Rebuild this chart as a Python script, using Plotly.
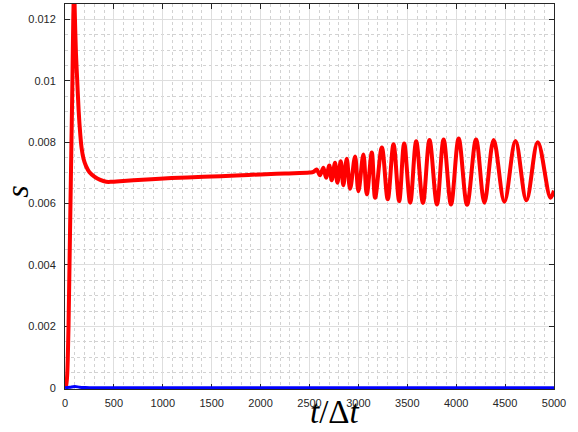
import plotly.graph_objects as go

# Red series: s vs t/Δt
t_red = [0, 10, 20, 28, 36, 46, 56, 66, 76, 85, 93, 101, 112, 125, 140, 155, 170, 190, 215, 250, 300, 360, 422, 480, 560, 700, 968, 1250, 1500, 1750, 2000, 2250, 2500, 2540,
         2573, 2607, 2642, 2669, 2703, 2727, 2761, 2785, 2820, 2846, 2881, 2915, 2966, 3000, 3051, 3086, 3137, 3171, 3240, 3300,
         3359, 3417, 3468, 3530, 3591, 3660, 3727, 3803, 3871, 3947, 4025, 4111, 4203, 4288, 4383, 4493, 4606, 4718, 4834, 4964, 5000]
s_red = [0.0, 0.00005, 0.0003, 0.0009, 0.0020, 0.0040, 0.0060, 0.0080, 0.0100, 0.0121, 0.0130, 0.0121, 0.0109, 0.0100, 0.0090, 0.0083, 0.0078, 0.00745, 0.00722, 0.00702, 0.00688, 0.00677, 0.00671, 0.00671, 0.00673, 0.00676, 0.00681, 0.00685, 0.00688, 0.00691, 0.00695, 0.00698, 0.00701, 0.00703,
         0.00711, 0.00692, 0.00717, 0.00684, 0.00724, 0.00676, 0.00733, 0.00668, 0.00738, 0.00660, 0.00746, 0.00648, 0.00753, 0.00640, 0.00760, 0.00630, 0.00766, 0.00619, 0.00783, 0.00614,
         0.00793, 0.00608, 0.00796, 0.00603, 0.00803, 0.00602, 0.00807, 0.00597, 0.00809, 0.00597, 0.00812, 0.00596, 0.00809, 0.00603, 0.00807, 0.00606, 0.00804, 0.00611, 0.00800, 0.00619, 0.00642]

# Blue series (near zero)
t_blue = [0, 50, 100, 150, 200, 300, 5000]
s_blue = [0.0, 0.00002, 0.00004, 0.00002, 0.00001, 0.0, 0.0]

x_ticks = [0, 500, 1000, 1500, 2000, 2500, 3000, 3500, 4000, 4500, 5000]
y_ticks = [0, 0.002, 0.004, 0.006, 0.008, 0.01, 0.012]
y_tick_labels = ["0", "0.002", "0.004", "0.006", "0.008", "0.01", "0.012"]

fig = go.Figure()
fig.add_trace(go.Scatter(x=t_red, y=s_red, mode="lines",
                         line=dict(color="#ff0000", width=4, shape="spline", smoothing=1.0),
                         showlegend=False))
fig.add_trace(go.Scatter(x=t_blue, y=s_blue, mode="lines", cliponaxis=False,
                         line=dict(color="#0000ff", width=3, shape="spline"),
                         showlegend=False))

axis_common = dict(
    showline=True, linecolor="#262626", linewidth=1, mirror="ticks",
    ticks="inside", ticklen=5, tickcolor="#262626", tickwidth=1,
    showgrid=True, gridcolor="#dedede", gridwidth=1,
    zeroline=False,
    tickfont=dict(family="Liberation Sans, Arial, sans-serif", size=11, color="#262626"),
    layer="below traces",
)

fig.update_xaxes(range=[0, 5000], tickmode="array", tickvals=x_ticks,
                 ticktext=[str(v) for v in x_ticks],
                 minor=dict(dtick=100, showgrid=True, griddash="dot", gridcolor="#d2d2d2", gridwidth=1),
                 ticklabelstandoff=4,
                 **axis_common)
fig.update_yaxes(range=[-0.00004, 0.0125], tickmode="array", tickvals=y_ticks,
                 ticktext=y_tick_labels,
                 minor=dict(dtick=0.0005, tick0=0, showgrid=True, griddash="dot", gridcolor="#d2d2d2", gridwidth=1),
                 ticklabelstandoff=6,
                 **axis_common)

fig.update_layout(
    width=578, height=432,
    margin=dict(l=65, r=24, t=4, b=43),
    paper_bgcolor="white", plot_bgcolor="white",
    annotations=[
        dict(text="<i>t</i>/Δ<i>t</i>", xref="paper", yref="paper", x=0.552, y=-0.06,
             xanchor="center", yanchor="middle", showarrow=False,
             font=dict(family="Liberation Serif, Times New Roman, serif", size=33, color="#000000")),
        dict(text="<i>s</i>", xref="paper", yref="paper", x=-0.097, y=0.511,
             xanchor="center", yanchor="middle", showarrow=False, textangle=-90,
             font=dict(family="Liberation Serif, Times New Roman, serif", size=32, color="#000000")),
    ],
)

fig.write_html("out.html", config={"displayModeBar": False},
               post_script="document.body.style.margin='0';document.body.style.padding='0';")
